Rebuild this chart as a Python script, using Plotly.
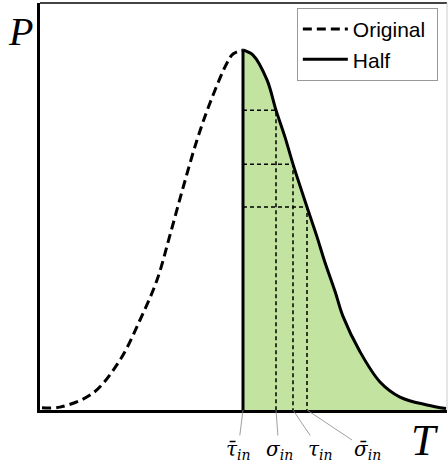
import plotly.graph_objects as go

# Right (half) curve: T, P (peak at T=0, P=1)
half_T = [0, 0.2, 0.48, 0.66, 0.84, 1.0, 1.28, 1.48, 1.64, 1.84, 2.0, 2.34, 2.74, 3.14, 3.68, 4.06]
half_P = [1.0, 0.986, 0.917, 0.833, 0.758, 0.683, 0.564, 0.481, 0.41, 0.33, 0.26, 0.162, 0.078, 0.036, 0.014, 0.004]

# Left (original) curve
orig_T = [-4.02, -3.66, -3.0, -2.46, -2.06, -1.72, -1.46, -1.2, -0.92, -0.66, -0.32, -0.2, 0]
orig_P = [0.006, 0.008, 0.047, 0.139, 0.25, 0.361, 0.486, 0.617, 0.75, 0.853, 0.964, 0.989, 1.0]

# Marked temperatures and their P levels
mark_T = [0, 0.66, 1.0, 1.28]
mark_P = [1.0, 0.833, 0.683, 0.564]
mark_labels = ["<i>τ̄</i><sub><i>in</i></sub>", "<i>σ</i><sub><i>in</i></sub>",
               "<i>τ</i><sub><i>in</i></sub>", "<i>σ̄</i><sub><i>in</i></sub>"]
label_dx = [-5, 3, 27, 60]

series_names = ["Original", "Half"]

GREEN = "rgb(194,228,160)"
NB = "\u00a0"

fig = go.Figure()

# fill
fig.add_trace(go.Scatter(x=half_T, y=half_P, mode="lines", line=dict(width=0, shape="spline"),
                         fill="tozeroy", fillcolor=GREEN, showlegend=False, hoverinfo="skip"))

# dashed guide lines
for t, p in zip(mark_T[1:], mark_P[1:]):
    fig.add_trace(go.Scatter(x=[0, t, t], y=[p, p, 0], mode="lines",
                             line=dict(color="black", width=1.5, dash="4px,3px"),
                             showlegend=False, hoverinfo="skip"))

fig.add_trace(go.Scatter(x=orig_T, y=orig_P, mode="lines", name=series_names[0] + NB,
                         line=dict(color="black", width=3, dash="9px,5px", shape="spline")))
fig.add_trace(go.Scatter(x=half_T, y=half_P, mode="lines", name=series_names[1],
                         line=dict(color="black", width=3, shape="spline")))
fig.add_trace(go.Scatter(x=[0, 0], y=[0, 1.0], mode="lines", line=dict(color="black", width=3),
                         showlegend=False, hoverinfo="skip"))

for t, lab, dx in zip(mark_T, mark_labels, label_dx):
    fig.add_annotation(x=t, y=0, xref="x", yref="y", text=lab, showarrow=True,
                       arrowhead=0, arrowwidth=0.8, arrowcolor="#888", ax=dx, ay=40,
                       font=dict(family="DejaVu Serif", size=20, color="black"))

fig.add_annotation(x=0.946, y=-0.074, xref="paper", yref="paper", text="<i>T</i>", showarrow=False,
                   xanchor="center", yanchor="middle",
                   font=dict(family="Liberation Serif", size=44, color="black"))
fig.add_annotation(x=-0.049, y=0.931, xref="paper", yref="paper", text="<i>P</i>", showarrow=False,
                   xanchor="center", yanchor="middle",
                   font=dict(family="Liberation Serif", size=40, color="black"))

# frame top and right
fig.add_shape(type="line", xref="paper", yref="paper", x0=0, x1=1, y0=1, y1=1,
              line=dict(color="#444", width=2))
fig.add_shape(type="line", xref="paper", yref="paper", x0=1, x1=1, y0=0, y1=1,
              line=dict(color="#ccc", width=1))

fig.update_xaxes(range=[-4.06, 4.08], showgrid=False, zeroline=False, showticklabels=False,
                 ticks="", showline=True, linecolor="black", linewidth=3)
fig.update_yaxes(range=[0, 1.1306], showgrid=False, zeroline=False, showticklabels=False,
                 ticks="", showline=True, linecolor="black", linewidth=3)

fig.update_layout(width=448, height=471, margin=dict(l=40, r=1, t=3, b=61),
                  plot_bgcolor="white", paper_bgcolor="white",
                  legend=dict(x=0.631, y=0.988, xanchor="left", yanchor="top",
                              bordercolor="#999", borderwidth=1, bgcolor="white",
                              font=dict(family="Liberation Sans", size=21, color="black"),
                              itemwidth=45, tracegroupgap=0))

fig.write_html("out.html", config={"displayModeBar": False},
               post_script="document.body.style.margin='0';document.body.style.overflow='hidden';")
